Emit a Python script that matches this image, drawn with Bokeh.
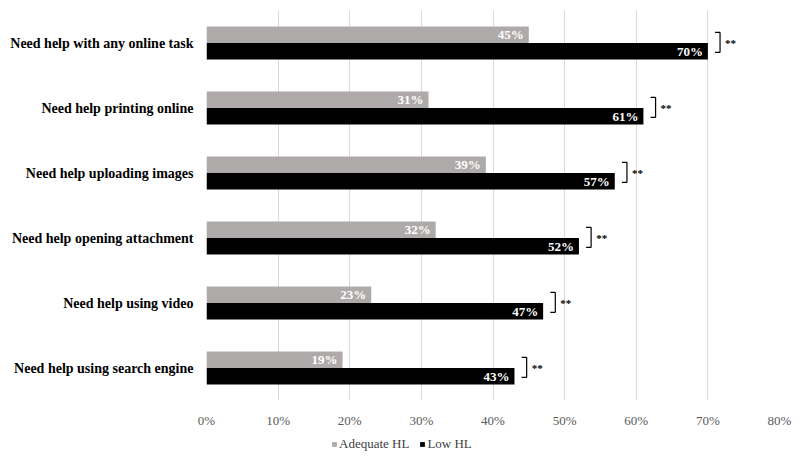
from bokeh.plotting import figure
from bokeh.layouts import column
from bokeh.models import (ColumnDataSource, FactorRange, Range1d, FixedTicker,
                          PrintfTickFormatter, Legend, LegendItem)
from bokeh.transform import dodge
from bokeh.core.properties import value
from bokeh.embed import file_html
from bokeh.resources import INLINE

categories = ["Need help with any online task", "Need help printing online",
              "Need help uploading images", "Need help opening attachment",
              "Need help using video", "Need help using search engine"]
adequate_hl = [45, 31, 39, 32, 23, 19]
low_hl = [70, 61, 57, 52, 47, 43]
significance = ["**", "**", "**", "**", "**", "**"]
series_names = ["Adequate HL", "Low HL"]
x_ticks = [0, 10, 20, 30, 40, 50, 60, 70, 80]

GRAY = "#AFAAAA"
SERIF = "Liberation Serif"

src = ColumnDataSource(dict(
    cat=categories,
    adequate=adequate_hl,
    low=low_hl,
    adequate_lbl=[f"{v}%" for v in adequate_hl],
    low_lbl=[f"{v}%" for v in low_hl],
    bx0=[v + 1.0 for v in low_hl],
    bx1=[v + 1.7 for v in low_hl],
    star_x=[v + 2.4 for v in low_hl],
    star=significance,
))

p = figure(width=792, height=430, output_backend="svg", toolbar_location=None,
           y_range=FactorRange(*categories[::-1]), x_range=Range1d(0, 80),
           min_border_left=206, min_border_right=13, min_border_top=10,
           min_border_bottom=20)
p.outline_line_color = None
p.background_fill_color = "white"

off = 0.1275
bh = 0.255
p.hbar(y=dodge("cat", off, range=p.y_range), right="adequate", left=0,
       height=bh, source=src, fill_color=GRAY, line_color=None)
p.hbar(y=dodge("cat", -off, range=p.y_range), right="low", left=0,
       height=bh, source=src, fill_color="black", line_color=None)

lbl_kw = dict(text_color="white", text_font=value(SERIF), text_font_style="bold",
              text_font_size="13px", text_align="right", text_baseline="middle",
              x_offset=-5, source=src)
p.text(x="adequate", y=dodge("cat", off, range=p.y_range), text="adequate_lbl", **lbl_kw)
p.text(x="low", y=dodge("cat", -off, range=p.y_range), text="low_lbl", **lbl_kw)

# significance brackets
top = 0.165
bot = -0.145
seg_kw = dict(source=src, line_color="black", line_width=1.2)
p.segment(x0="bx0", y0=dodge("cat", top, range=p.y_range), x1="bx1",
          y1=dodge("cat", top, range=p.y_range), **seg_kw)
p.segment(x0="bx0", y0=dodge("cat", bot, range=p.y_range), x1="bx1",
          y1=dodge("cat", bot, range=p.y_range), **seg_kw)
p.segment(x0="bx1", y0=dodge("cat", top, range=p.y_range), x1="bx1",
          y1=dodge("cat", bot, range=p.y_range), **seg_kw)
p.text(x="star_x", y="cat", text="star", source=src, text_font=value(SERIF),
       text_font_style="bold", text_font_size="11px", text_baseline="middle",
       text_color="black")

p.xaxis.ticker = FixedTicker(ticks=x_ticks)
p.xaxis.formatter = PrintfTickFormatter(format="%d%%")
p.xaxis.axis_line_color = None
p.xaxis.major_tick_line_color = None
p.xaxis.minor_tick_line_color = None
p.xaxis.major_label_text_font = SERIF
p.xaxis.major_label_text_font_size = "13px"
p.xaxis.major_label_text_color = "#595959"
p.xaxis.major_label_standoff = 6

p.yaxis.axis_line_color = None
p.yaxis.major_tick_line_color = None
p.yaxis.minor_tick_line_color = None
p.yaxis.major_label_text_font = SERIF
p.yaxis.major_label_text_font_style = "bold"
p.yaxis.major_label_text_font_size = "14px"
p.yaxis.major_label_text_color = "black"
p.yaxis.major_label_standoff = 7

p.ygrid.grid_line_color = None
p.xgrid.grid_line_color = "#D9D9D9"
p.xgrid.ticker = FixedTicker(ticks=x_ticks)

# legend strip (its frame is aligned with the main frame by the column layout)
lg = figure(width=792, height=24, output_backend="svg", toolbar_location=None,
            x_range=Range1d(0, 1), y_range=Range1d(0, 1),
            min_border_left=0, min_border_right=0, min_border_top=0,
            min_border_bottom=0, x_axis_type=None, y_axis_type=None)
lg.outline_line_color = None
lg.grid.visible = False
# proxy glyphs for the legend keys: one point each, far outside the strip's range
proxy = ColumnDataSource(dict(x=[adequate_hl[0]], y=[low_hl[0]]))
ra = lg.rect(x="x", y="y", width=1, height=1, source=proxy,
             fill_color=GRAY, line_color=None)
rl = lg.rect(x="x", y="y", width=1, height=1, source=proxy,
             fill_color="black", line_color=None)
legend = Legend(items=[LegendItem(label=series_names[0], renderers=[ra]),
                       LegendItem(label=series_names[1], renderers=[rl])],
                orientation="horizontal", location=(125, 2),
                label_text_font=SERIF, label_text_font_size="13px",
                label_text_color="#404040", glyph_width=6, glyph_height=6,
                label_standoff=2, spacing=10, padding=0, margin=0,
                border_line_color=None, background_fill_alpha=0,
                label_height=13)
lg.add_layout(legend, "center")

open("out.html", "w").write(file_html(column(p, lg, spacing=0), INLINE))
